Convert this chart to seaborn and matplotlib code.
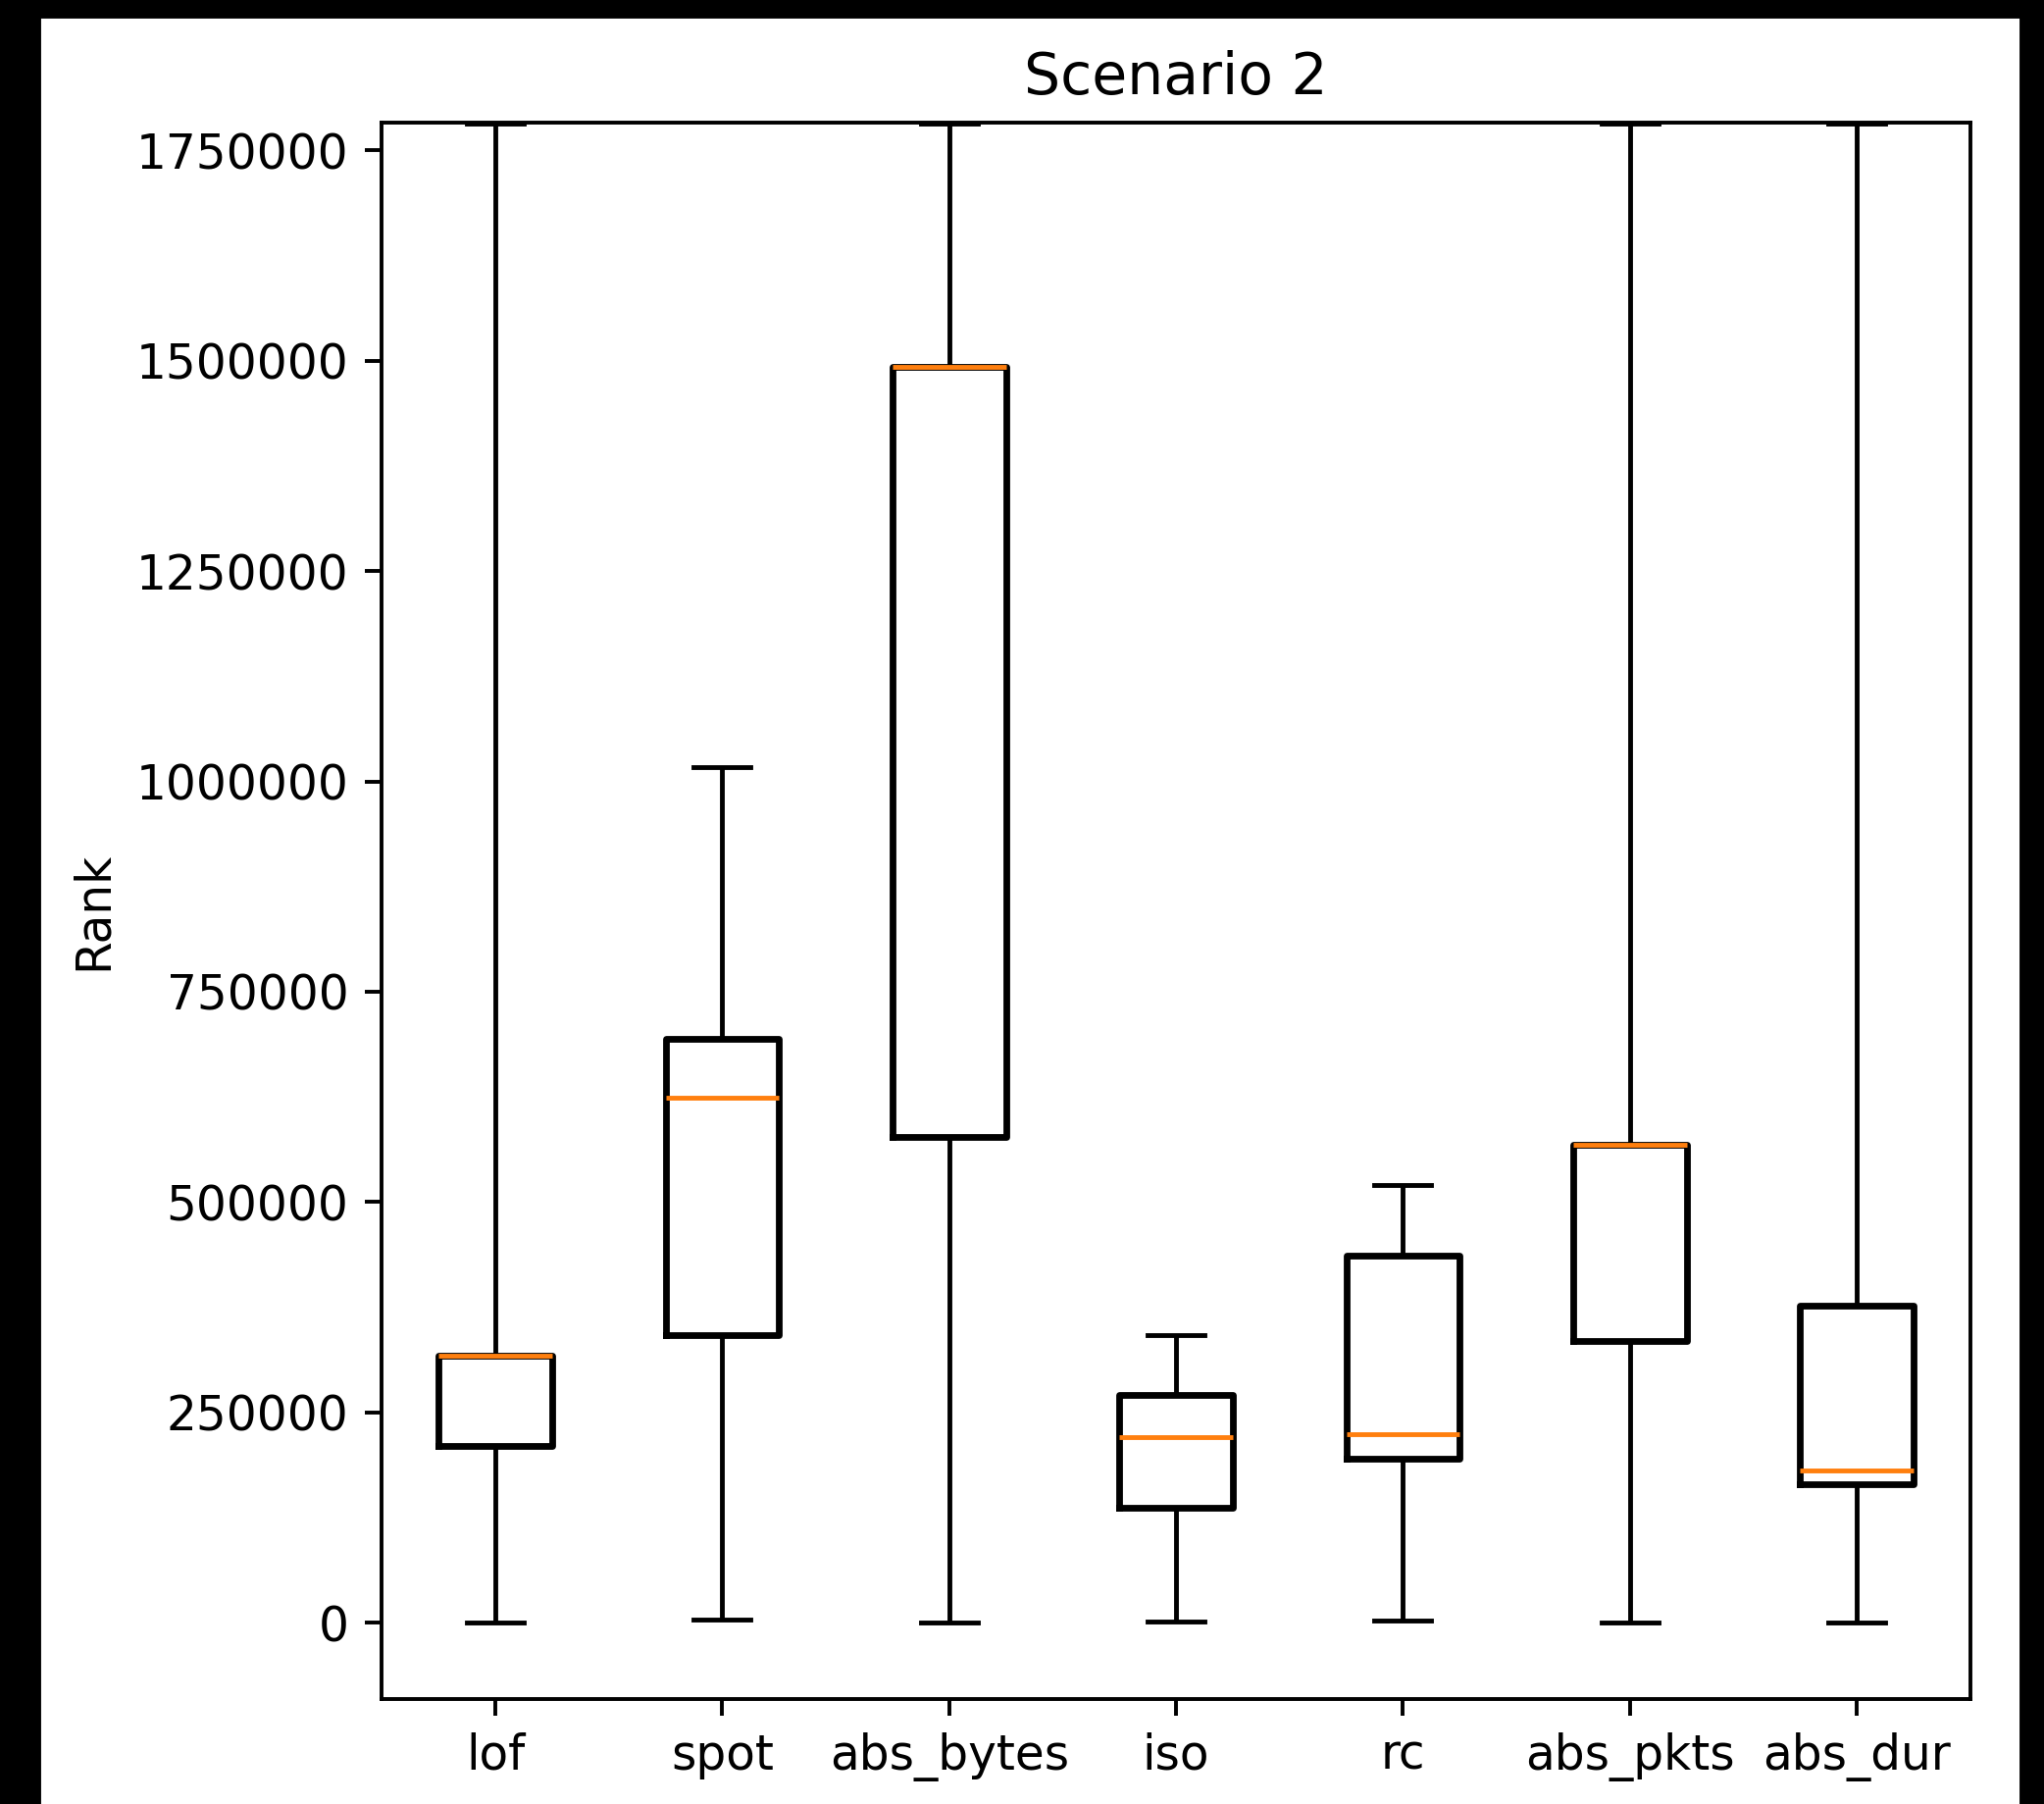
import matplotlib
matplotlib.use("Agg")
import matplotlib.pyplot as plt
import matplotlib.patches as mpatches
import seaborn as sns
import pandas as pd

# five-number summaries: min, q1, median, q3, max
methods = ["lof", "spot", "abs_bytes", "iso", "rc", "abs_pkts", "abs_dur"]
lof = [0, 210000, 317500, 317500, 1781500]
spot = [3800, 342000, 624000, 694000, 1017500]
abs_bytes = [0, 577500, 1493000, 1493000, 1781500]
iso = [800, 136800, 220400, 270900, 342300]
rc = [2300, 195000, 224600, 436700, 520400]
abs_pkts = [0, 334500, 568400, 568400, 1781500]
abs_dur = [0, 164400, 181000, 377400, 1781500]

ytick_values = [0, 250000, 500000, 750000, 1000000, 1250000, 1500000, 1750000]

df = pd.DataFrame(dict(zip(methods, [lof, spot, abs_bytes, iso, rc, abs_pkts, abs_dur])))

W, H, DPI = 2084, 1839, 350
fig = plt.figure(figsize=(W / DPI, H / DPI), dpi=DPI)
ax = fig.add_axes([389.4 / W, 1 - 1731.7 / H, (2008.7 - 389.4) / W, (1731.7 - 124.7) / H])

sns.boxplot(data=df, ax=ax, fill=False, color="black", width=0.5, whis=(0, 100),
            boxprops={"linewidth": 1.4},
            whiskerprops={"linewidth": 1.0},
            capprops={"linewidth": 1.0},
            medianprops={"color": "#ff7f0e", "linewidth": 1.0})

ax.set_ylim(-90400, 1783500)
ax.set_xlim(-0.5, 6.5)
ax.set_yticks(ytick_values)
ax.ticklabel_format(axis="y", style="plain")
ax.set_ylabel("Rank")
ax.set_xlabel("")
ax.set_title("Scenario 2")
for s in ax.spines.values():
  s.set_linewidth(0.8)
  s.set_color("black")

# black screenshot border on left, top and right
fig.patches.extend([
    mpatches.Rectangle((0, 0), 39 / W, 1, transform=fig.transFigure, color="black", zorder=10),
    mpatches.Rectangle((0, 1 - 16 / H), 1, 16 / H, transform=fig.transFigure, color="black", zorder=10),
    mpatches.Rectangle((2061 / W, 0), (W - 2061) / W, 1, transform=fig.transFigure, color="black", zorder=10),
])

fig.savefig("out.png", dpi=DPI)
plt.close(fig)
